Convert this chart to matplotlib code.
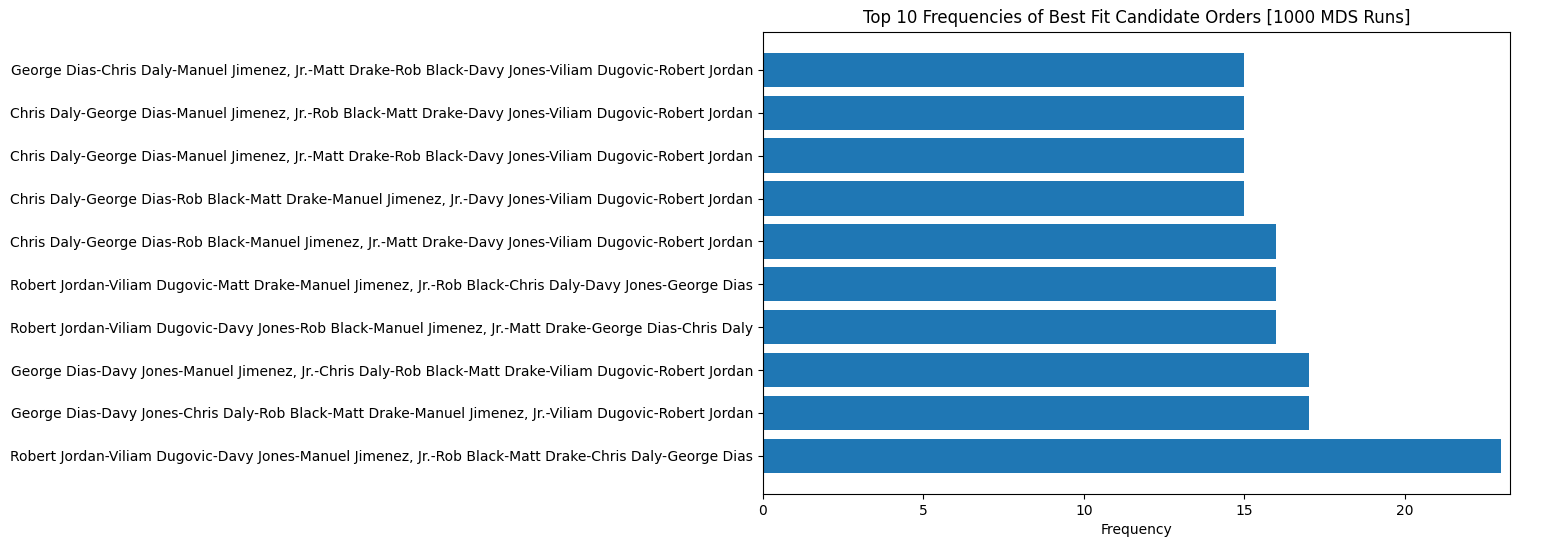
import matplotlib
matplotlib.use("Agg")
import matplotlib.pyplot as plt

# orders listed bottom to top, as drawn by barh
orders = [
    "Robert Jordan-Viliam Dugovic-Davy Jones-Manuel Jimenez, Jr.-Rob Black-Matt Drake-Chris Daly-George Dias",
    "George Dias-Davy Jones-Chris Daly-Rob Black-Matt Drake-Manuel Jimenez, Jr.-Viliam Dugovic-Robert Jordan",
    "George Dias-Davy Jones-Manuel Jimenez, Jr.-Chris Daly-Rob Black-Matt Drake-Viliam Dugovic-Robert Jordan",
    "Robert Jordan-Viliam Dugovic-Davy Jones-Rob Black-Manuel Jimenez, Jr.-Matt Drake-George Dias-Chris Daly",
    "Robert Jordan-Viliam Dugovic-Matt Drake-Manuel Jimenez, Jr.-Rob Black-Chris Daly-Davy Jones-George Dias",
    "Chris Daly-George Dias-Rob Black-Manuel Jimenez, Jr.-Matt Drake-Davy Jones-Viliam Dugovic-Robert Jordan",
    "Chris Daly-George Dias-Rob Black-Matt Drake-Manuel Jimenez, Jr.-Davy Jones-Viliam Dugovic-Robert Jordan",
    "Chris Daly-George Dias-Manuel Jimenez, Jr.-Matt Drake-Rob Black-Davy Jones-Viliam Dugovic-Robert Jordan",
    "Chris Daly-George Dias-Manuel Jimenez, Jr.-Rob Black-Matt Drake-Davy Jones-Viliam Dugovic-Robert Jordan",
    "George Dias-Chris Daly-Manuel Jimenez, Jr.-Matt Drake-Rob Black-Davy Jones-Viliam Dugovic-Robert Jordan",
]
freqs = [23, 17, 17, 16, 16, 16, 15, 15, 15, 15]

fig = plt.figure(figsize=(15.47, 5.47), dpi=100)
ax = fig.add_axes([0.493, 0.097, 0.483, 0.845])
ax.barh(orders, freqs, color="#1f77b4")
ax.set_xlim(0, 23.27)
ax.set_xlabel("Frequency")
ax.set_title("Top 10 Frequencies of Best Fit Candidate Orders [1000 MDS Runs]")
fig.savefig("out.png", dpi=100)
